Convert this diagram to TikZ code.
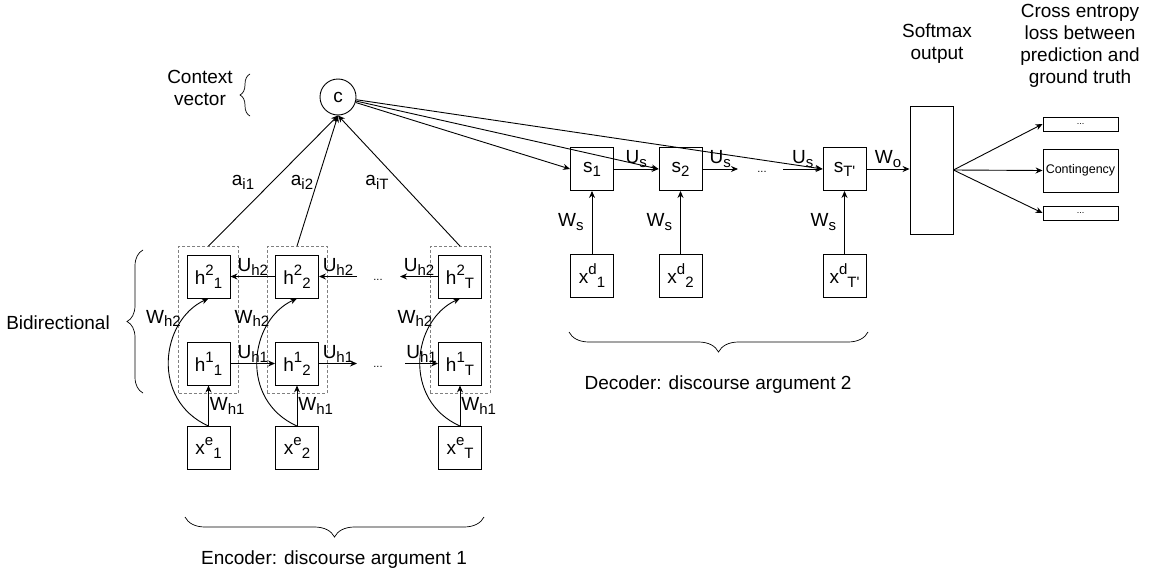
\documentclass[tikz,border=0pt]{standalone}
\usepackage{fontspec}
\setmainfont{Liberation Sans}
\usepackage{tikz}
\usetikzlibrary{arrows.meta,fit,decorations.pathreplacing}

\newcommand{\supx}[1]{\raisebox{0.5em}{\fontsize{15}{16}\selectfont #1}}
\newcommand{\subx}[1]{\raisebox{-0.2em}{\fontsize{15}{16}\selectfont #1}}

\begin{document}
\begin{tikzpicture}[
   x=1pt, y=-1pt,
   line width=0.9pt,
   every node/.style={font=\fontsize{19}{22}\selectfont},
   box/.style={draw, minimum size=43pt, inner sep=0pt},
   outbox/.style={box, minimum width=75pt, minimum height=14pt},
   grp/.style={draw=gray, dash pattern=on 3pt off 2pt, inner sep=8pt},
   arr/.style={-{Stealth[length=7pt,width=6pt]}},
   lbl/.style={inner sep=1pt},
   dots/.style={font=\fontsize{11}{12}\selectfont},
   brc/.style={decorate, decoration={brace, amplitude=#1}},
   ]
   \useasboundingbox (0,0) rectangle (1158,578);

   % context vector
   \node[draw, circle, minimum size=36pt, inner sep=0pt] (c) at (338,97) {c};

   % encoder columns
   \foreach \i/\x/\t in {1/208.5/1, 2/297/2, T/460/T} {
      \node[box] (h2-\i) at (\x,276.5) {h\supx{2}\subx{\t}};
      \node[box] (h1-\i) at (\x,363.5) {h\supx{1}\subx{\t}};
      \node[box] (xe-\i) at (\x,448) {x\supx{e}\subx{\t}};
      \node[grp, fit=(h2-\i)(h1-\i)] (bi-\i) {};
      \draw[arr] (xe-\i) -- (h1-\i) node[lbl, midway, right] {W\subx{h1}};
      \draw[arr] (xe-\i.north) .. controls +(-58,-26) and +(-48,22) .. (h2-\i.south);
      \node[lbl] (wh-\i) at ([shift={(-45,20)}]h2-\i.south) {W\subx{h2}};
   }

   % attention weights
   \foreach \i/\lx/\t in {1/243/1, 2/302/2, T/377/T} {
      \draw[arr] (bi-\i.north) -- (c.south);
      \node[lbl] (a-\i) at (\lx,182) {a\subx{i\t}};
   }

   % backward row
   \coordinate (u2a) at (357,276.5);
   \coordinate (u2b) at (400,276.5);
   \draw[arr] (h2-2) -- (h2-1) node[lbl, midway, above] {U\subx{h2}};
   \draw[arr] (u2a) -- (h2-2) node[lbl, midway, above] {U\subx{h2}};
   \draw[arr] (h2-T) -- (u2b) node[lbl, midway, above] {U\subx{h2}};
   \node[dots] (d2) at (378,280) {...};

   % forward row
   \coordinate (u1a) at (357,363.5);
   \coordinate (u1b) at (405,363.5);
   \draw[arr] (h1-1) -- (h1-2) node[lbl, midway, above] {U\subx{h1}};
   \draw[arr] (h1-2) -- (u1a) node[lbl, midway, above] {U\subx{h1}};
   \draw[arr] (u1b) -- (h1-T) node[lbl, midway, above] {U\subx{h1}};
   \node[dots] (d1) at (378,367) {...};

   % decoder columns
   \foreach \i/\x/\t in {1/592/1, 2/680.5/2, T/844.5/T\textquotesingle} {
      \node[box] (s-\i) at (\x,169) {s\subx{\t}};
      \node[box] (xd-\i) at (\x,275.5) {x\supx{d}\subx{\t}};
      \draw[arr] (xd-\i) -- (s-\i) node[lbl, midway, left=7pt] {W\subx{s}};
      \draw[arr] (c) -- (s-\i.west);
   }
   \coordinate (usa) at (738,169);
   \coordinate (usb) at (783,169);
   \draw[arr] (s-1) -- (s-2) node[lbl, midway, above] {U\subx{s}};
   \draw[arr] (s-2) -- (usa) node[lbl, midway, above] {U\subx{s}};
   \draw[arr] (usb) -- (s-T) node[lbl, midway, above] {U\subx{s}};
   \node[dots] (ds) at (762,172) {...};

   % softmax and classes
   \node[draw, minimum width=43pt, minimum height=128pt] (soft) at (931.5,170) {};
   \draw[arr] (s-T.east) -- (s-T.east -| soft.west) node[lbl, midway, above] {W\subx{o}};
   \node[outbox, font=\fontsize{9}{10}\selectfont] (o1) at (1080.5,124) {...};
   \node[outbox, minimum height=43pt, font=\fontsize{12.5}{14}\selectfont] (o2) at (1080.5,170.5) {Contingency};
   \node[outbox, font=\fontsize{9}{10}\selectfont] (o3) at (1080.5,213) {...};
   \foreach \o in {o1,o2,o3}
   \draw[arr] (soft.east) -- (\o.west);

   % captions
   \node[align=center] (ctx) at (200,88) {Context\\vector};
   \node (bidir) at (58,323) {Bidirectional};
   \node[align=center] (smx) at (937,44) {Softmax\\output};
   \node[align=center] (xent) at (1080,46) {Cross entropy\\loss between\\prediction and\\ground truth};
   \node (enc) at (334,560) {Encoder: discourse argument 1};
   \node (dec) at (718,385) {Decoder: discourse argument 2};

   % braces
   \draw[brc=10pt, line width=0.7pt] (250,116) -- (250,74);
   \draw[brc=16pt, line width=0.7pt] (143,393) -- (143,250);
   \draw[brc=20pt, line width=0.7pt] (484,517) -- (185,517);
   \draw[brc=20pt, line width=0.7pt] (868,332) -- (569,332);
\end{tikzpicture}
\end{document}
